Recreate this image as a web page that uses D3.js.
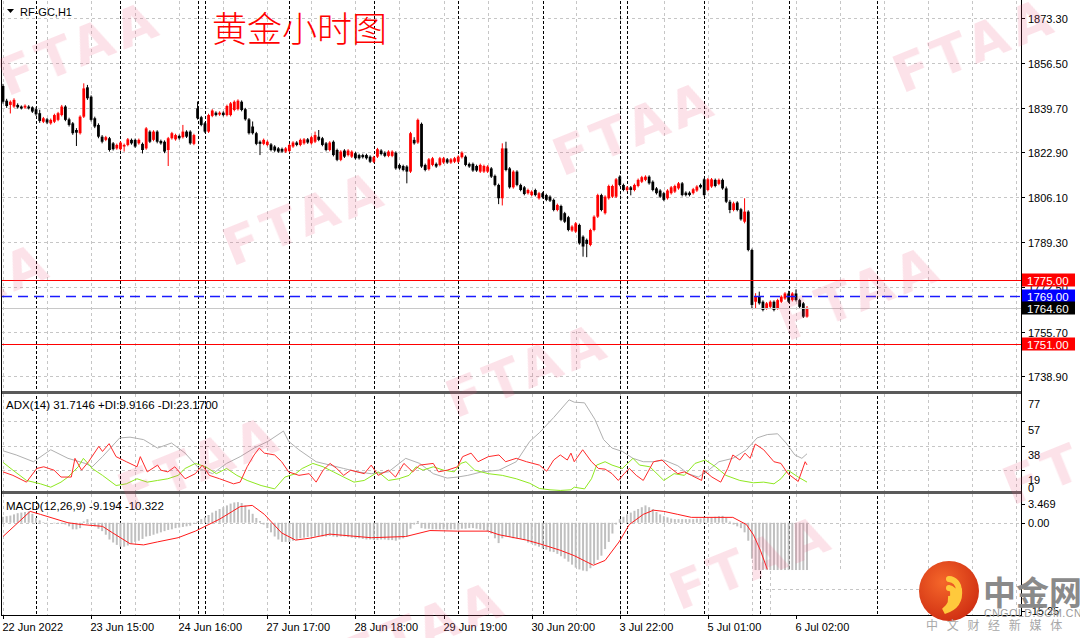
<!DOCTYPE html>
<html><head><meta charset="utf-8">
<script src="https://cdn.jsdelivr.net/npm/d3@7"></script>
<style>html,body{margin:0;padding:0;background:#fff;}svg{display:block;}</style>
</head><body>
<svg id="c" width="1080" height="638"></svg>
<script>
// ---------------- DATA ----------------
const opens = [
1847.8,1842.3,1840.7,1840.1,1840.7,1840.1,1839.7,1840.1,1839.8,1839.1,
1837.6,1834.4,1835.3,1833.8,1834.4,1835.1,1836.9,1840.1,1835.3,1833.8,
1831.3,1830.1,1836.3,1847.3,1843.8,1835.7,1833.2,1828.8,1827.6,1828.2,
1826.3,1824.4,1824.1,1825.1,1825.7,1827.6,1827.6,1826.3,1826.1,1824.4,
1830.7,1827.6,1830.7,1827.2,1826.9,1823.8,1828.2,1827.8,1829.1,1828.6,
1830.7,1830.7,1826.1,1839.4,1836.1,1833.8,1830.7,1836.6,1837.8,1837.1,
1837.8,1836.9,1836.9,1838.8,1839.1,1841.9,1839.1,1835.3,1832.6,1830.1,
1826.9,1826.1,1825.7,1825.9,1825.1,1824.4,1824.2,1823.2,1823.4,1825.1,
1826.6,1825.7,1826.3,1827.8,1826.3,1826.9,1828.8,1828.2,1826.3,1823.8,
1826.9,1823.8,1820.1,1823.6,1821.9,1821.3,1822.6,1821.9,1821.9,1821.9,
1821.3,1819.4,1821.3,1823.6,1822.8,1821.6,1821.6,1822.8,1818.2,1817.8,
1817.6,1815.7,1827.6,1826.6,1833.6,1818.2,1816.6,1818.2,1818.6,1818.2,
1819.1,1820.3,1819.1,1819.4,1819.4,1821.1,1821.3,1818.6,1818.6,1817.8,
1815.7,1815.7,1815.7,1816.9,1814.1,1810.7,1805.7,1824.4,1816.9,1809.8,
1815.7,1810.7,1809.8,1807.6,1806.9,1808.8,1805.7,1807.6,1806.9,1806.3,
1805.1,1801.3,1802.8,1800.1,1798.6,1793.6,1793.2,1795.7,1791.3,1790.1,
1788.2,1793.8,1798.8,1806.9,1800.1,1805.7,1806.3,1806.3,1813.8,1810.7,
1808.8,1809.8,1808.8,1810.3,1811.9,1812.6,1813.8,1811.9,1809.4,1808.6,
1807.6,1805.7,1807.6,1808.2,1809.4,1811.3,1807.8,1807.8,1807.6,1808.6,
1810.7,1812.8,1808.8,1810.1,1812.6,1811.1,1812.6,1809.4,1804.4,1801.3,
1804.1,1801.6,1796.9,1800.7,1786.3,1766.9,1768.8,1766.9,1764.4,1765.0,
1766.9,1764.4,1766.9,1768.1,1770.0,1767.5,1770.0,1767.5,1766.3,1761.3];
const highs = [
1848.6,1843.0,1842.4,1843.2,1841.3,1840.5,1840.9,1840.6,1840.2,1839.8,
1838.9,1836.2,1835.8,1835.6,1837.4,1838.1,1840.7,1840.6,1835.9,1834.3,
1832.0,1836.8,1848.8,1848.2,1844.3,1836.3,1833.8,1829.4,1829.1,1828.7,
1826.8,1826.2,1827.1,1826.2,1828.3,1828.1,1828.1,1828.1,1826.6,1832.4,
1831.2,1831.2,1831.2,1827.7,1827.4,1828.7,1830.6,1829.9,1829.6,1833.2,
1831.2,1831.2,1829.9,1842.0,1836.6,1834.3,1837.4,1839.1,1838.3,1838.3,
1838.3,1840.8,1841.8,1842.4,1842.8,1842.4,1839.6,1835.8,1834.5,1830.6,
1827.4,1828.1,1827.4,1826.4,1825.6,1824.9,1824.7,1824.9,1826.2,1827.1,
1827.1,1828.1,1828.3,1828.3,1829.1,1830.7,1831.3,1828.7,1826.8,1827.1,
1827.4,1824.3,1823.7,1824.1,1824.1,1823.7,1823.1,1822.4,1822.4,1822.4,
1821.8,1821.6,1824.6,1824.1,1823.3,1823.7,1823.7,1823.3,1818.7,1818.3,
1818.1,1830.6,1828.6,1835.6,1834.1,1818.7,1820.8,1821.2,1819.1,1821.2,
1821.2,1820.8,1820.8,1821.2,1821.8,1823.3,1821.8,1819.1,1819.1,1818.3,
1818.7,1818.3,1818.1,1817.4,1814.6,1811.2,1826.3,1826.9,1817.4,1816.2,
1816.2,1811.2,1810.3,1809.3,1808.7,1809.3,1808.1,1808.1,1807.4,1806.8,
1805.6,1803.7,1803.3,1800.6,1799.1,1795.6,1796.8,1796.2,1791.8,1790.6,
1794.3,1799.3,1807.4,1807.4,1806.8,1810.8,1810.8,1813.3,1814.3,1811.2,
1810.3,1810.3,1811.2,1813.1,1814.1,1814.3,1814.3,1812.4,1809.9,1809.1,
1808.1,1809.1,1810.3,1810.8,1811.8,1811.8,1808.3,1808.3,1809.6,1810.6,
1811.2,1813.3,1813.3,1813.3,1813.1,1813.1,1813.1,1810.1,1805.1,1804.4,
1804.6,1802.1,1805.7,1801.2,1786.8,1770.1,1770.7,1767.4,1766.8,1767.4,
1767.4,1768.0,1769.3,1770.5,1771.0,1770.5,1771.5,1768.0,1766.8,1765.3];
const lows = [
1841.2,1839.6,1837.5,1839.6,1839.3,1839.0,1839.2,1839.0,1837.7,1836.6,
1834.0,1833.9,1833.5,1833.3,1833.9,1834.6,1836.4,1834.6,1832.6,1829.5,
1825.3,1829.6,1835.8,1842.6,1834.5,1832.0,1828.2,1826.3,1827.1,1823.2,
1823.6,1823.9,1823.6,1823.2,1825.2,1825.8,1824.6,1825.8,1822.5,1823.9,
1826.4,1827.1,1826.3,1825.8,1822.6,1817.8,1827.7,1827.3,1827.7,1828.1,
1828.3,1825.8,1825.6,1835.2,1832.7,1830.2,1830.2,1836.1,1836.4,1836.6,
1836.4,1836.4,1836.4,1838.3,1838.6,1838.3,1834.8,1829.6,1829.6,1825.6,
1821.9,1825.6,1825.2,1823.3,1823.1,1822.7,1822.7,1822.7,1822.9,1824.6,
1825.2,1825.2,1825.8,1826.1,1825.8,1826.4,1827.1,1825.2,1823.3,1823.3,
1821.4,1819.6,1819.6,1820.8,1821.4,1820.8,1820.2,1820.2,1820.6,1820.2,
1818.9,1818.9,1820.8,1821.8,1821.1,1821.1,1821.1,1816.4,1816.4,1815.8,
1811.3,1815.2,1825.8,1826.1,1817.1,1815.8,1816.1,1817.7,1817.1,1817.7,
1818.6,1818.6,1818.6,1818.9,1818.9,1820.6,1817.7,1817.1,1815.6,1815.6,
1815.2,1815.2,1815.2,1813.3,1810.2,1803.5,1803.0,1815.8,1809.3,1809.3,
1810.2,1808.3,1806.8,1807.1,1806.4,1806.4,1805.2,1805.6,1804.6,1804.3,
1800.8,1800.8,1797.1,1796.4,1793.3,1793.1,1792.7,1788.3,1783.8,1783.6,
1787.7,1793.3,1798.3,1800.8,1799.6,1805.2,1805.8,1805.8,1810.2,1808.3,
1808.3,1806.8,1808.3,1809.8,1811.4,1812.1,1810.8,1808.3,1807.1,1805.8,
1804.6,1805.2,1807.1,1807.7,1808.9,1806.4,1806.4,1806.4,1807.1,1808.1,
1809.3,1806.4,1808.3,1809.6,1809.8,1810.6,1808.9,1803.9,1800.1,1800.8,
1800.8,1797.3,1796.3,1785.8,1764.5,1764.5,1765.8,1763.3,1763.9,1764.5,
1763.3,1763.9,1766.4,1767.6,1766.4,1767.0,1767.0,1764.5,1760.8,1760.9];
const closes = [
1841.9,1840.3,1841.9,1842.6,1839.8,1839.4,1840.4,1839.4,1838.2,1837.2,
1834.7,1835.7,1834.1,1835.1,1836.9,1837.6,1840.1,1835.1,1833.2,1830.1,
1830.3,1836.3,1846.9,1843.2,1835.1,1832.6,1828.8,1826.9,1828.6,1823.8,
1824.1,1825.7,1826.6,1825.7,1827.8,1826.3,1825.1,1827.6,1823.8,1831.9,
1826.9,1830.7,1826.9,1826.3,1823.2,1828.2,1830.1,1829.4,1828.2,1830.7,
1828.8,1826.3,1829.4,1835.7,1833.2,1830.7,1836.9,1838.6,1836.9,1837.8,
1836.9,1840.3,1841.3,1841.9,1842.3,1838.8,1835.3,1830.1,1830.1,1826.1,
1826.1,1827.6,1826.9,1823.8,1823.6,1823.2,1823.2,1824.4,1825.7,1826.6,
1825.7,1827.6,1827.8,1826.6,1828.6,1829.4,1827.6,1825.7,1823.8,1826.6,
1821.9,1820.1,1823.2,1821.3,1823.6,1823.2,1820.7,1820.7,1821.1,1820.7,
1819.4,1821.1,1824.1,1822.3,1821.6,1823.2,1823.2,1816.9,1816.9,1816.3,
1815.7,1830.1,1826.3,1835.1,1817.6,1816.3,1820.3,1820.7,1817.6,1820.7,
1820.7,1819.1,1820.3,1820.7,1821.3,1822.8,1818.2,1817.6,1816.1,1816.1,
1818.2,1817.8,1817.6,1813.8,1810.7,1805.7,1824.4,1816.3,1809.8,1815.7,
1810.7,1808.8,1807.3,1808.8,1808.2,1806.9,1807.6,1806.1,1805.1,1804.8,
1801.3,1803.2,1797.6,1796.9,1793.8,1795.1,1796.3,1788.8,1787.6,1788.6,
1793.8,1798.8,1806.9,1801.3,1806.3,1810.3,1810.3,1812.8,1810.7,1808.8,
1809.8,1808.8,1810.7,1812.6,1813.6,1813.8,1811.3,1808.8,1807.6,1806.3,
1805.1,1808.6,1809.8,1810.3,1811.3,1806.9,1806.9,1806.9,1809.1,1810.1,
1809.8,1806.9,1812.8,1812.8,1810.3,1812.6,1809.4,1804.4,1801.3,1803.8,
1801.3,1797.8,1800.7,1786.3,1765.7,1768.8,1766.3,1763.8,1766.3,1766.9,
1763.8,1767.5,1768.8,1770.0,1766.9,1770.0,1767.5,1765.0,1761.3,1764.6];

const priceTicks = [1873.30,1856.50,1839.70,1822.90,1806.10,1789.30,1772.50,1755.70,1738.90];
const levelPrices = [1775.00,1769.00,1764.60,1751.00];
const timeLabels = ["22 Jun 2022","23 Jun 15:00","24 Jun 16:00","27 Jun 17:00","28 Jun 18:00","29 Jun 19:00","30 Jun 20:00","3 Jul 22:00","5 Jul 01:00","6 Jul 02:00"];
const timeLabelBars = [0,24,48,72,96,120,144,168,192,216];
const separatorBars = [9,32,53,55,78,101,124,147,168,170,191,214,238];

// ADX(14): [bar, value]
const adxMain = [[0,34.0],[3.6,30.8],[8.3,25.6],[13,34.8],[17.7,28.2],[22.4,24.3],[24.3,21.7],[27.1,29.5],[31.8,43.9],[34.6,44.5],[38.3,42.6],[42.1,36.1],[45.9,40.0],[49.6,32.2],[53.4,20.4],[57.1,16.4],[60.9,24.3],[64.6,29.5],[68.4,36.1],[72.2,41.3],[76.4,49.2],[77.8,41.3],[80.6,34.8],[85.3,25.6],[89.1,23.0],[92.8,20.4],[96.6,17.8],[100.3,16.4],[105,17.8],[109.7,28.2],[113.5,24.3],[117.2,16.4],[121,13.0],[123.8,13.8],[126.6,15.1],[130.4,17.8],[135.1,19.1],[139.8,25.6],[143.5,41.3],[146.1,47.9],[150,59.6],[154.2,73.2],[155.6,71.4],[158.4,70.9],[161.2,58.3],[163.6,42.6],[165.9,36.1],[168.7,33.5],[171.6,28.2],[174.4,25.6],[177.2,25.6],[180,26.9],[183.8,22.5],[186.6,16.4],[189.4,13.8],[192.2,19.1],[195,25.6],[198.8,28.2],[202.5,34.8],[205.4,43.9],[208.2,46.5],[211,47.1],[213.3,40.0],[215.7,30.8],[217.6,28.2],[219,31.71]];
const adxPlusDI = [[0,25.1],[2.7,19.1],[6.4,11.2],[10.2,8.6],[13,6.0],[15.8,9.9],[17.7,13.8],[20.5,21.7],[21.9,28.2],[24.3,20.4],[27.1,15.1],[30.8,7.3],[33.6,8.6],[36.5,12.5],[39.3,9.9],[42.1,11.2],[44.9,12.5],[47.7,15.1],[49.6,20.4],[52.4,24.3],[55.2,21.7],[58.1,16.4],[60.9,20.4],[63.7,15.1],[66.5,11.2],[70.3,7.3],[74,4.7],[76.8,13.8],[79.7,16.4],[81.5,20.4],[84.4,24.3],[87.2,21.7],[90,17.8],[92.8,13.8],[95.6,9.9],[98.4,11.2],[102.2,17.8],[105,11.2],[107.8,12.5],[110.6,15.1],[112.5,21.7],[114.4,19.1],[117.2,21.7],[120,19.1],[122.9,17.8],[124.7,24.3],[126.1,25.6],[128.5,19.1],[132.2,16.4],[136,15.1],[139.8,12.5],[143.5,9.0],[146.1,5.0],[149,4.0],[151.8,3.5],[154.7,4.0],[155.6,6.0],[158.4,4.7],[160.3,12.5],[161.7,23.0],[164,25.6],[165.9,23.0],[168.7,20.4],[171.6,28.2],[173.4,23.0],[176.2,21.7],[180,11.2],[182.8,16.4],[185.6,15.1],[188.5,24.3],[191.3,26.9],[194.1,21.7],[196.9,15.1],[200.7,11.2],[204.4,9.4],[207.2,9.9],[210,8.6],[211.9,12.5],[213.8,19.1],[216.6,13.8],[219,9.92]];
const adxMinusDI = [[0,17.8],[2.7,15.1],[6.4,9.9],[9.2,20.4],[11.1,21.7],[13.9,19.1],[15.8,13.8],[18.6,13.8],[19.6,28.2],[21.4,19.1],[23.3,25.6],[26.1,37.4],[27.1,33.5],[28.9,39.5],[30.8,29.5],[33.6,25.6],[36.5,21.7],[37.4,29.5],[39.3,17.8],[42.1,23.0],[43,19.1],[44.9,17.8],[46.8,21.7],[49.6,12.5],[52.4,16.4],[54.3,23.0],[56.2,15.1],[59,12.5],[62.8,8.6],[64.6,9.9],[66.5,21.7],[68.4,30.8],[69.8,36.1],[71.2,32.2],[74,30.8],[75.9,25.6],[77.8,17.8],[80.6,15.1],[83.4,16.4],[85.3,9.9],[87.2,19.1],[89.1,24.3],[90.9,20.4],[92.8,15.1],[94.7,19.1],[98.4,16.4],[100.3,23.0],[102.2,15.1],[105,19.1],[106.9,13.8],[109.2,24.3],[111.6,17.8],[113.5,23.0],[117.2,24.3],[118.6,17.8],[121,19.1],[123.8,21.7],[125.2,29.5],[127.5,32.2],[129.4,25.6],[132.2,29.5],[135.1,30.8],[136.9,25.6],[139.8,28.2],[142.6,25.6],[146.1,23.0],[148.1,18.3],[150,26.9],[151.8,30.8],[153.7,26.9],[154.7,32.2],[155.6,25.6],[157.9,34.8],[160.3,25.6],[162.2,20.4],[164,19.9],[165.9,16.4],[167.6,11.2],[169.2,16.4],[170.6,20.4],[172.5,15.1],[174.4,11.2],[177.2,25.6],[179.5,26.9],[181.4,21.7],[183.8,16.4],[185.6,17.8],[187.5,15.1],[190.3,11.2],[190.8,19.1],[193.1,13.8],[195.5,9.9],[197.4,20.4],[198.8,30.8],[200.7,26.9],[202.1,32.2],[203.5,28.2],[204.9,39.2],[207.2,34.8],[210,25.6],[211.9,24.3],[213.8,16.4],[216.6,10.4],[218.5,25.6],[219,23.17]];
const adxTicks = [77,57,38,19,0];

// MACD(12,26,9)
const macdMain = [
1.0,1.1,1.2,1.4,1.6,1.7,1.8,1.9,1.5,0.8,
0.4,0.1,-0.1,0.0,-0.1,-0.1,-0.2,-0.3,-0.6,-1.1,
-1.1,-0.9,0.2,0.6,-0.3,-0.6,-1.0,-1.4,-2.0,-2.8,
-3.3,-3.7,-4.0,-4.0,-3.8,-3.5,-3.2,-3.0,-2.7,-2.3,
-2.2,-2.0,-1.8,-1.6,-1.4,-1.2,-1.1,-0.9,-0.8,-0.7,
-0.6,-0.5,-0.2,0.2,0.6,0.9,1.3,1.7,2.0,2.3,
2.6,2.9,3.2,3.4,3.45,3.3,2.9,2.2,1.5,0.8,
0.3,-0.3,-0.9,-1.6,-2.3,-2.8,-3.2,-3.2,-3.2,-3.0,
-2.8,-2.6,-2.5,-2.4,-2.3,-2.3,-2.2,-2.3,-2.3,-2.2,
-2.3,-2.4,-2.3,-2.3,-2.4,-2.5,-2.6,-2.6,-2.7,-2.8,
-2.8,-2.9,-2.9,-2.8,-2.8,-2.9,-2.9,-3.0,-2.8,-2.6,
-2.3,-1.0,-0.3,0.3,-0.9,-1.0,-1.0,-1.1,-1.1,-1.1,
-1.1,-1.15,-1.1,-1.1,-1.15,-1.0,-1.0,-0.9,-0.9,-1.0,
-1.1,-1.2,-1.4,-1.8,-2.6,-3.4,-2.6,-2.3,-2.4,-2.6,
-2.6,-2.7,-2.9,-3.3,-3.5,-3.8,-4.0,-4.3,-4.5,-4.8,
-4.9,-5.2,-5.6,-6.0,-6.5,-7.0,-7.5,-7.8,-8.0,-8.1,
-7.6,-6.9,-6.2,-5.5,-4.4,-3.2,-1.8,-0.3,0.6,1.0,
1.4,1.7,2.0,2.3,2.6,2.9,2.6,2.3,1.8,1.4,
1.1,0.9,0.7,0.6,0.6,0.6,0.6,0.6,0.6,0.7,
0.7,0.8,0.9,0.9,1.0,1.1,1.15,0.8,0.2,-0.3,
-0.6,-0.9,-1.6,-3.0,-6.0,-7.9,-7.9,-7.9,-7.9,-7.9,
-7.9,-7.9,-7.9,-7.9,-7.9,-7.9,-7.9,-7.9,-7.9,-7.9];
const macdSignal = [[0,-2.3],[7.4,1.9],[10.2,1.4],[17.7,0.0],[21.4,-0.3],[27.1,-0.6],[29.9,-1.7],[34.6,-3.5],[38.3,-3.7],[42.1,-3.2],[47.7,-2.5],[52.4,-1.4],[59,0.6],[64.6,2.7],[67.9,2.9],[71.2,1.4],[75.9,-1.7],[79.7,-2.9],[83.4,-2.6],[89,-1.9],[100.3,-2.5],[109.7,-2.3],[116.3,-1.3],[123.8,-1.4],[132.2,-1.4],[135.1,-2.0],[142.6,-2.9],[146.1,-3.5],[151.8,-4.6],[155.6,-5.5],[160.8,-7.1],[164,-6.3],[167.8,-3.2],[170.6,-0.3],[174.4,1.4],[177.2,2.1],[180,1.9],[183.8,1.4],[187.5,0.9],[195,0.9],[198.8,0.9],[202.5,-0.3],[204.4,-2.0],[206.3,-4.6],[208.2,-7.8]];
const macdTicks = [3.469, 0.00, -15.25];
const macdTickLabels = ["3.469","0.00","-15.25"];

// ---------------- LAYOUT ----------------
const svg = d3.select('#c');
const L = 2, R = 1021;
const mainTop = 1, mainBot = 391, adxTop = 394, adxBot = 491, macdTop = 494, macdBot = 615;
const FONT = "'Liberation Sans', Arial, sans-serif";

const x = d3.scaleLinear().domain([0, 219]).range([3, 807]);
const yP = d3.scaleLinear().domain([1738.9, 1873.3]).range([376.4, 18]);
const yA = d3.scaleLinear().domain([0, 77]).range([495, 394.9]);
const yM = d3.scaleLinear().domain([-15.25, 3.469]).range([614, 502]);

svg.append('rect').attr('width', 1080).attr('height', 638).attr('fill', '#fff');

const defs = svg.append('defs');
function clip(id, y0, y1) {
  defs.append('clipPath').attr('id', id).append('rect')
    .attr('x', L).attr('y', y0).attr('width', R - L).attr('height', y1 - y0);
}
clip('cMain', mainTop, mainBot); clip('cAdx', adxTop, adxBot); clip('cMacd', macdTop, macdBot);

const gridColor = '#c6c6c6';
const gridBars = d3.range(0, 290, 12).filter(b => x(b) < R);
[[mainTop, mainBot], [adxTop, adxBot], [macdTop, macdBot]].forEach(([t, b]) => {
  svg.append('g').selectAll('line').data(gridBars).join('line')
    .attr('x1', d => Math.round(x(d)) + 0.5).attr('x2', d => Math.round(x(d)) + 0.5)
    .attr('y1', t).attr('y2', b)
    .attr('stroke', gridColor).attr('stroke-dasharray', '3,3');
});
svg.append('g').selectAll('line').data(priceTicks).join('line')
  .attr('x1', L).attr('x2', R).attr('y1', d => Math.round(yP(d)) + 0.5).attr('y2', d => Math.round(yP(d)) + 0.5)
  .attr('stroke', gridColor).attr('stroke-dasharray', '3,3');
svg.append('g').selectAll('line').data([57, 38, 19]).join('line')
  .attr('x1', L).attr('x2', R).attr('y1', d => Math.round(yA(d)) + 0.5).attr('y2', d => Math.round(yA(d)) + 0.5)
  .attr('stroke', gridColor).attr('stroke-dasharray', '3,3');
svg.append('line').attr('x1', L).attr('x2', R).attr('y1', Math.round(yM(0)) + 0.5).attr('y2', Math.round(yM(0)) + 0.5)
  .attr('stroke', gridColor).attr('stroke-dasharray', '3,3');

// day separators
svg.append('g').selectAll('line').data(separatorBars).join('line')
  .attr('x1', d => Math.round(x(d)) + 0.5).attr('x2', d => Math.round(x(d)) + 0.5)
  .attr('y1', mainTop).attr('y2', macdBot)
  .attr('stroke', '#000').attr('stroke-dasharray', '3,2');

// ---------------- CANDLES ----------------
const gC = svg.append('g').attr('clip-path', 'url(#cMain)');
const bars = d3.range(opens.length);
const col = i => closes[i] >= opens[i] ? '#ff0000' : '#000000';
gC.selectAll('line.w').data(bars).join('line')
  .attr('x1', i => x(i)).attr('x2', i => x(i))
  .attr('y1', i => yP(highs[i])).attr('y2', i => yP(lows[i]))
  .attr('stroke', col).attr('stroke-width', 1);
gC.selectAll('rect.b').data(bars).join('rect')
  .attr('x', i => x(i) - 1.4).attr('width', 2.8)
  .attr('y', i => yP(Math.max(opens[i], closes[i])))
  .attr('height', i => Math.max(1, Math.abs(yP(opens[i]) - yP(closes[i]))))
  .attr('fill', col);

// level lines
const levelColors = ['#ff0000', '#1a1aff', '#c8c8c8', '#ff0000'];
const levelDash = [null, '10,6', null, null];
levelPrices.forEach((p, k) => {
  svg.append('line').attr('x1', L).attr('x2', R)
    .attr('y1', Math.round(yP(p)) + 0.5).attr('y2', Math.round(yP(p)) + 0.5)
    .attr('stroke', levelColors[k]).attr('stroke-width', k === 1 ? 1.3 : 1)
    .attr('stroke-dasharray', levelDash[k]);
});

// ---------------- ADX ----------------
const gA = svg.append('g').attr('clip-path', 'url(#cAdx)');
const lineA = d3.line().x(d => x(d[0])).y(d => yA(d[1]));
gA.append('path').attr('d', lineA(adxMain)).attr('fill', 'none').attr('stroke', '#b0b0b0').attr('stroke-width', 1);
gA.append('path').attr('d', lineA(adxPlusDI)).attr('fill', 'none').attr('stroke', '#8fe820').attr('stroke-width', 1);
gA.append('path').attr('d', lineA(adxMinusDI)).attr('fill', 'none').attr('stroke', '#ff2a2a').attr('stroke-width', 1);

// ---------------- MACD ----------------
const gM = svg.append('g').attr('clip-path', 'url(#cMacd)');
gM.selectAll('rect').data(bars).join('rect')
  .attr('x', i => x(i) - 1).attr('width', 2)
  .attr('y', i => Math.min(yM(0), yM(macdMain[i])))
  .attr('height', i => Math.abs(yM(macdMain[i]) - yM(0)))
  .attr('fill', '#c0c0c0');
gM.append('path').attr('d', d3.line().x(d => x(d[0])).y(d => yM(d[1]))(macdSignal))
  .attr('fill', 'none').attr('stroke', '#ff1a1a').attr('stroke-width', 1);

// patched area in the lower MACD window
const patchX0 = Math.round(x(206.3)), patchY0 = Math.round(yM(-7.9)) + 1;
svg.append('rect').attr('x', patchX0).attr('y', patchY0).attr('width', 160).attr('height', macdBot - patchY0).attr('fill', '#fff');
svg.append('line').attr('x1', patchX0 + 0.5).attr('x2', patchX0 + 0.5).attr('y1', patchY0).attr('y2', macdBot).attr('stroke', '#000').attr('stroke-dasharray', '3,2');
svg.append('line').attr('x1', patchX0 + 10.5).attr('x2', patchX0 + 10.5).attr('y1', patchY0).attr('y2', macdBot).attr('stroke', gridColor).attr('stroke-dasharray', '3,3');
svg.append('line').attr('x1', patchX0).attr('x2', patchX0 + 160).attr('y1', patchY0 + 18.5).attr('y2', patchY0 + 18.5).attr('stroke', gridColor).attr('stroke-dasharray', '3,3');
svg.append('line').attr('x1', Math.round(x(238)) + 0.5).attr('x2', Math.round(x(238)) + 0.5).attr('y1', patchY0).attr('y2', macdBot).attr('stroke', '#000').attr('stroke-dasharray', '3,2');

// ---------------- FRAMES ----------------
svg.append('rect').attr('x', L).attr('y', mainBot).attr('width', R - L).attr('height', 3).attr('fill', '#5a5a5a');
svg.append('rect').attr('x', L).attr('y', adxBot).attr('width', R - L).attr('height', 3).attr('fill', '#5a5a5a');
svg.append('line').attr('x1', 1.5).attr('x2', 1.5).attr('y1', 0).attr('y2', macdBot).attr('stroke', '#000');
svg.append('line').attr('x1', R + 0.5).attr('x2', R + 0.5).attr('y1', 0).attr('y2', macdBot + 1).attr('stroke', '#000');
svg.append('line').attr('x1', 1).attr('x2', R + 1).attr('y1', macdBot + 0.5).attr('y2', macdBot + 0.5).attr('stroke', '#000');

// ---------------- AXES ----------------
const txt = (g, X, Y, s, o = {}) => g.append('text').attr('x', X).attr('y', Y).text(s)
  .attr('font-family', o.ff || FONT).attr('font-size', o.fs || 11).attr('fill', o.fill || '#000')
  .attr('dominant-baseline', 'central').attr('text-anchor', o.anchor || 'start');

const axG = svg.append('g');
priceTicks.forEach(p => {
  const yy = Math.round(yP(p)) + 0.5;
  axG.append('line').attr('x1', R).attr('x2', R + 4).attr('y1', yy).attr('y2', yy).attr('stroke', '#000');
  txt(axG, 1028, yy, d3.format('.2f')(p));
});
const boxColors = ['#ff0000', '#0000ff', '#000000', '#ff0000'];
levelPrices.forEach((p, k) => {
  const yy = yP(p);
  axG.append('rect').attr('x', 1022).attr('y', Math.round(yy) - 6.5).attr('width', 53).attr('height', 13).attr('fill', boxColors[k]);
  txt(axG, 1027, Math.round(yy) + 0.5, d3.format('.2f')(p), { fill: '#fff', fs: 11.5 });
});

adxTicks.forEach(v => {
  const yy = Math.min(yA(v) + 9.5, 487.5);
  txt(axG, 1028, yy, String(v));
  if (v > 0 && v < 77) axG.append('line').attr('x1', R).attr('x2', R + 4).attr('y1', Math.round(yA(v)) + 0.5).attr('y2', Math.round(yA(v)) + 0.5).attr('stroke', '#000');
});
macdTicks.forEach((v, k) => {
  const yy = k === 0 ? 503.5 : (k === 2 ? 611 : yM(v));
  txt(axG, 1028, yy, macdTickLabels[k]);
  axG.append('line').attr('x1', R).attr('x2', R + 4).attr('y1', Math.round(yy) + 0.5).attr('y2', Math.round(yy) + 0.5).attr('stroke', '#000');
});

timeLabelBars.forEach((b, k) => {
  const xx = Math.round(x(b)) + 0.5;
  axG.append('line').attr('x1', xx).attr('x2', xx).attr('y1', macdBot).attr('y2', macdBot + 4).attr('stroke', '#000');
  txt(axG, xx - 1, 626.5, timeLabels[k]);
});

svg.append('path').attr('d', 'M7,9 L14,9 L10.5,13 Z').attr('fill', '#000');
txt(svg, 20, 12, 'RF-GC,H1');
svg.append('text').attr('x', 212).attr('y', 42).text('黄金小时图')
  .attr('font-family', "'Noto Sans CJK SC', sans-serif").attr('font-weight', 300)
  .attr('font-size', 35).attr('fill', '#ff0000');
txt(svg, 6, 405, 'ADX(14) 31.7146 +DI:9.9166 -DI:23.1700', { fs: 11.5 });
txt(svg, 6, 506, 'MACD(12,26,9) -9.194 -10.322', { fs: 11.5 });

// ---------------- WATERMARKS ----------------
const marks = [[80,48],[635,128],[305,218],[975,45],[-30,290],[860,293],[528,370],[200,463],[752,562],[1085,457],[425,628]];
const wm = svg.append('g').attr('opacity', 0.18);
marks.forEach(([cx, cy]) => {
  wm.append('text').attr('transform', `translate(${cx},${cy}) rotate(-22)`)
    .attr('text-anchor', 'middle').attr('dominant-baseline', 'central')
    .attr('font-family', "'DejaVu Sans', sans-serif").attr('font-weight', 'bold')
    .attr('font-size', 52).attr('letter-spacing', 6).attr('fill', '#ee5a80').text('FTAA');
});

// ---------------- LOGO ----------------
const lg = svg.append('g');
const grad = defs.append('radialGradient').attr('id', 'lgG').attr('cx', '40%').attr('cy', '35%').attr('r', '70%');
grad.append('stop').attr('offset', '0%').attr('stop-color', '#f5672a');
grad.append('stop').attr('offset', '100%').attr('stop-color', '#cf2e12');
lg.append('circle').attr('cx', 949).attr('cy', 591).attr('r', 30).attr('fill', 'url(#lgG)');
lg.append('path').attr('d', 'M949,579 a10,10 0 1,1 -1,20 a5.5,5.5 0 1,0 1,-11 M959,589 q2,17 -15,22 q11,-9 9,-20')
  .attr('fill', 'none').attr('stroke', '#ffc93c').attr('stroke-width', 6).attr('stroke-linecap', 'round');
lg.append('text').attr('x', 983).attr('y', 605).text('中金网')
  .attr('font-family', "'Noto Sans CJK SC', sans-serif").attr('font-weight', 'bold')
  .attr('font-size', 33).attr('fill', '#8a8a8a');
lg.append('text').attr('x', 984).attr('y', 617).text('CNGOLD.COM.CN')
  .attr('font-family', FONT).attr('font-size', 10.5).attr('letter-spacing', 0.6).attr('fill', '#9a9a9a');
lg.append('text').attr('x', 926).attr('y', 630).text('中 文 财 经 新 媒 体')
  .attr('font-family', "'Noto Sans CJK SC', sans-serif").attr('font-size', 12).attr('letter-spacing', 3).attr('fill', '#a8a8a8');
</script>
</body></html>
